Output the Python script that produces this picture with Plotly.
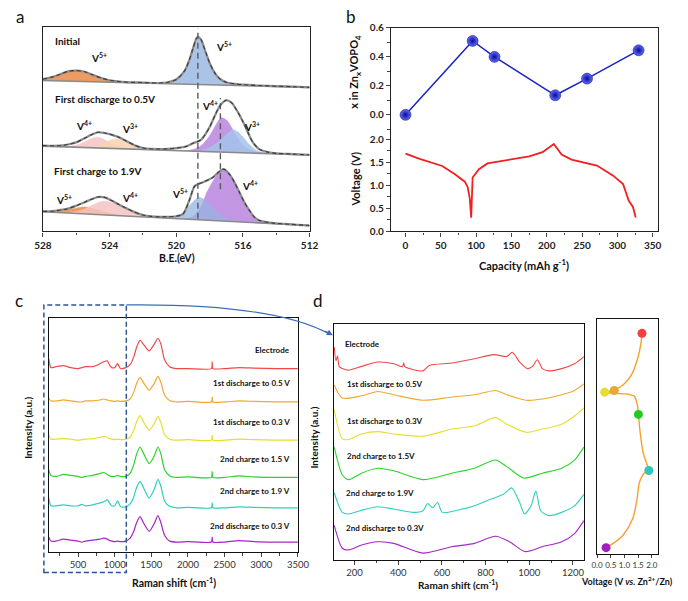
import plotly.graph_objects as go

W, H = 688, 601
FONT = "Lato, 'Open Sans', sans-serif"


def fx(p):
    return p / W


def fy(p):
    return 1 - p / H


# ======================= DATA =======================
# ---- Panel a : V 2p XPS fits (binding energy eV, height above background) ----
init_v5L_x = [528, 527.5, 527, 526.5, 526, 525.5, 525, 524.5, 524, 523.5, 523]
init_v5L_h = [1.5, 3.5, 6.5, 9.5, 11, 9.5, 6.5, 3.5, 1.5, 0.5, 0]
init_v5R_x = [521, 520.5, 520, 519.5, 519.2, 519, 518.8, 518.7, 518.5, 518.3, 518, 517.7, 517.4, 517, 516.5, 516]
init_v5R_h = [0, 1, 4, 13, 25, 36, 46, 48, 45, 36, 22, 12, 6, 2.5, 1, 0]
init_env_x = [528, 527.5, 527, 526.5, 526, 525.5, 525, 524.5, 524, 523.5, 523, 522, 521, 520.5, 520, 519.5,
              519.2, 519, 518.8, 518.7, 518.5, 518.3, 518, 517.7, 517.4, 517, 516.5, 516, 515, 514, 513, 512]
init_env_h = [1.5, 3.5, 6.5, 10, 11, 10, 7, 4, 2, 1, 0.5, 0.5, 0.5, 1.5, 4.5, 13.5,
              25.5, 36.5, 46.5, 48.5, 45.5, 36.5, 22.5, 12.5, 6.5, 3, 1.5, 1, 0.5, 0.3, 0.2, 0]

mid_v4L_x = [526.5, 526, 525.5, 525, 524.8, 524.5, 524, 523.5, 523, 522.5]
mid_v4L_h = [0.5, 2, 6, 10, 11, 10, 6, 2.5, 0.8, 0]
mid_v3L_x = [525, 524.5, 524, 523.75, 523.5, 523, 522.5, 522, 521.5]
mid_v3L_h = [0.5, 3, 8, 9.5, 9.5, 6.5, 3, 1, 0]
mid_v4R_x = [519.5, 519, 518.5, 518, 517.6, 517.3, 517, 516.7, 516.4, 516, 515.5, 515, 514.5]
mid_v4R_h = [0, 1.5, 6, 16, 28, 35, 33, 26, 17, 8, 2.5, 0.5, 0]
mid_v3R_x = [519, 518.5, 518, 517.5, 517, 516.6, 516.3, 516, 515.7, 515.3, 515, 514.5]
mid_v3R_h = [0, 1, 4, 10, 18, 23, 21, 16, 10, 4, 1.5, 0]
mid_env_x = [528, 527, 526.5, 526, 525.5, 525, 524.7, 524.3, 524, 523.5, 523, 522.5, 522, 521.5, 521, 520.5,
             520, 519.5, 519, 518.5, 518, 517.6, 517.3, 517, 516.7, 516.4, 516, 515.7, 515.4, 515, 514.5,
             514, 513, 512]
mid_env_h = [0.5, 1, 2.5, 5, 9.5, 14, 16, 15.5, 14.5, 12, 8, 4, 1.5, 0.8, 1, 1.5,
             2.5, 4, 8, 12, 25, 40, 49, 53, 51, 44, 32, 21, 11, 4, 1.5,
             0.5, 0.3, 0]

bot_v5L_x = [527.5, 527, 526.5, 526, 525.5, 525, 524.5, 524, 523.5, 523]
bot_v5L_h = [0.5, 1.5, 3.5, 5.5, 7, 6, 4, 2, 0.7, 0]
bot_v4L_x = [526.5, 526, 525.5, 525, 524.6, 524.3, 524, 523.5, 523, 522.5, 522, 521.5, 521]
bot_v4L_h = [0.5, 2, 5, 9.5, 13, 14, 13.5, 11, 7.5, 4, 1.5, 0.5, 0]
bot_v5R_x = [520.7, 520.2, 519.7, 519.3, 519, 518.7, 518.5, 518.2, 517.8, 517.4, 517, 516.5, 516]
bot_v5R_h = [0, 1.5, 5, 12, 18, 22.5, 22.5, 19, 12, 6, 2.5, 0.5, 0]
bot_v4R_x = [519.5, 519, 518.5, 518.2, 517.8, 517.5, 517.15, 516.8, 516.5, 516.2, 515.9, 515.6, 515.3, 515, 514.5, 514]
bot_v4R_h = [0, 3, 14, 27, 40, 48, 52, 48, 40, 29, 19, 11, 5, 2, 0.5, 0]
bot_env_x = [528, 527.5, 527, 526.5, 526, 525.5, 525, 524.7, 524.3, 524, 523.5, 523, 522.5, 522, 521.5, 521,
             520.5, 520, 519.6, 519.2, 518.9, 518.6, 518.4, 518.1, 517.8, 517.5, 517.15, 516.8, 516.5, 516.2,
             515.9, 515.6, 515.3, 515, 514.5, 514, 512]
bot_env_h = [0.5, 1, 2.5, 4.5, 8, 12, 16, 18, 18, 16, 12, 8, 4.5, 2, 1, 1,
             1.5, 2.5, 5, 20, 34, 37, 38.5, 41, 44, 49, 53, 48, 40, 30,
             20, 12, 5.5, 2.5, 1, 0.5, 0]

xps_ticks = [528, 524, 520, 516, 512]
xps_guides = [518.7, 517.35]

# ---- Panel b ----
zn_capacity = [0, 95, 126, 212, 257, 330]
zn_x = [0.0, 0.51, 0.40, 0.135, 0.25, 0.445]
gcd_capacity = [0, 20, 52, 70, 84, 88, 91, 93, 95, 104, 116, 148, 175, 194, 210, 221, 235, 271, 294, 308, 316, 322, 326]
gcd_voltage = [1.69, 1.575, 1.42, 1.24, 1.08, 0.96, 0.71, 0.30, 1.17, 1.35, 1.475, 1.56, 1.63, 1.72, 1.90,
               1.67, 1.56, 1.43, 1.21, 1.03, 0.67, 0.53, 0.30]

# ---- Panel c : full Raman spectra (intensity above each trace's baseline) ----
raman_c_shift = [100, 130, 200, 300, 400, 500, 550, 600, 700, 800, 850, 900, 920, 960, 1000, 1040, 1080,
                 1150, 1210, 1260, 1300, 1346, 1390, 1470, 1540, 1590, 1630, 1680, 1750, 1850, 2000, 2320, 2330,
                 2340, 2500, 2700, 2900, 3200, 3500]
raman_c_electrode = [10, 1, 2, 3, 1, 0, 1, 2, 2, 5, 7, 8, 5, 1, 1, 5, 0,
                     1, 4, 12, 22, 29, 25, 18, 25, 31, 25, 9, 2, 0, 0, 0, 7,
                     0, 0, 1, 0.5, 0, 0]
raman_c_dis05 = [4, 1, 1, 2, 1, 0, 0, 1, 1, 2, 3, 2, 1.5, 1, 0.5, 1, 0.5,
                 1, 3, 10, 19, 25, 20, 12, 19, 26, 20, 7, 1.5, 0, 0.5, 0, 5,
                 0, 0, 1, 0.5, 0, 0]
raman_c_dis03 = [5, 1, 1, 1.5, 1, 0, 0.5, 1, 1.5, 3, 4, 3, 2, 1, 0.5, 1, 0.5,
                 1, 3, 10, 19, 25, 19, 10, 17, 24, 18, 6, 1, 0, 0.5, 0, 5,
                 0, 0, 1, 0.5, 0, 0]
raman_c_ch15 = [8, 2, 1, 3, 2, 1, 0, 1, 2, 4, 5, 3, 2, 1, 1, 2, 1,
                1, 4, 13, 24, 31, 25, 14, 22, 31, 24, 8, 1.5, 0, 0.5, 0, 6,
                0, 0, 1.5, 0.5, 0, 0]
raman_c_ch19 = [10, 2, 2, 3, 2, 2, 3.5, 2, 3, 5, 6, 8, 6, 2, 2, 7, 1,
                1, 4, 11, 21, 27, 21, 10, 19, 29, 22, 7, 1.5, 0, 0.5, 0, 5,
                0, 0, 1, 0.5, 0, 0]
raman_c_dis03b = [5, 1, 1, 3, 2, 1, 0, 1, 2, 3, 4, 3, 2, 1, 0.5, 1, 0.5,
                  1, 4, 11, 20, 26, 20, 11, 19, 27, 20, 7, 1, 0, 0.5, 0, 5,
                  0, 0, 1.5, 0.5, 0, 0]
raman_labels_c = ["Electrode", "1st discharge to 0.5 V", "1st discharge to 0.3 V",
                  "2nd charge to 1.5 V", "2nd charge to 1.9 V", "2nd discharge to 0.3 V"]

# ---- Panel d : low-wavenumber Raman (absolute intensity, a.u.) ----
d_el_shift = [107, 115, 122, 130, 144, 173, 232, 306, 380, 420, 425, 430, 513, 542, 646, 749, 838, 897, 922,
              956, 993, 1015, 1037, 1060, 1089, 1148, 1207, 1250]
d_el_int = [217, 203, 208, 197, 195, 193.3, 197.3, 201.7, 200, 197, 201, 197, 192.7, 198.3, 200.7, 205, 209.3,
            207.3, 211.7, 201.7, 195, 197.3, 204, 195, 192.7, 195, 200, 207.3]
d_d05_shift = [107, 144, 232, 306, 380, 513, 646, 749, 845, 897, 986, 1060, 1148, 1207, 1250]
d_d05_int = [178.3, 165, 167.3, 171.7, 168.3, 162.7, 166, 168.3, 172.7, 168.3, 162.7, 164, 168.3, 172.7, 179.3]
d_d03_shift = [107, 144, 173, 232, 306, 380, 513, 646, 749, 845, 897, 986, 1060, 1148, 1207, 1250]
d_d03_int = [153.3, 123.3, 122.7, 128.3, 130.7, 128.3, 126, 133.3, 136.7, 145, 138.3, 130, 133.3, 138.3, 146.7, 155]
d_c15_shift = [107, 144, 173, 232, 306, 380, 513, 646, 749, 845, 897, 975, 1060, 1148, 1207, 1250]
d_c15_int = [115, 86.7, 81.7, 88.3, 93.3, 90.7, 81.7, 88.3, 93.3, 101.7, 95, 83.3, 88.3, 93.3, 101.7, 115]
d_c19_shift = [107, 144, 173, 225, 306, 380, 469, 513, 535, 557, 580, 602, 675, 749, 823, 882, 919, 956, 978,
               1008, 1030, 1052, 1089, 1148, 1207, 1250]
d_c19_int = [68.3, 48.3, 46.7, 50, 54, 51.7, 48.3, 50, 57.3, 53, 58.3, 48.3, 50.7, 55, 61.7, 66.7, 73.3, 58.3,
             46.7, 55, 70, 50, 45, 48.3, 55, 66.7]
d_d03b_shift = [107, 144, 173, 232, 306, 380, 513, 646, 749, 845, 910, 980, 1060, 1148, 1207, 1250]
d_d03b_int = [35, 11.7, 10, 15, 18.3, 16.7, 6.7, 13.3, 16.7, 24, 18.3, 8.3, 13.3, 18.3, 26.7, 40]
raman_labels_d = ["Electrode", "1st discharge to 0.5V", "1st discharge to 0.3V",
                  "2nd charge to 1.5V", "2nd charge to 1.9V", "2nd discharge to 0.3V"]

# ---- Panel d side: voltage profile (time runs downward) ----
side_voltage = [1.64, 1.61, 1.48, 1.25, 0.95, 0.71, 0.63, 0.42, 0.28, 0.66, 1.13, 1.36, 1.47, 1.51, 1.58,
                1.69, 1.81, 1.89, 1.72, 1.54, 1.46, 1.30, 0.95, 0.59, 0.33]
side_time = [225, 216, 199, 182.3, 172.3, 168, 166.7, 165.7, 165, 163.7, 163, 160.7, 152.3, 142.3, 122.3,
             102.3, 92.3, 85, 82.3, 72.3, 55.7, 35.7, 19, 10.7, 6.3]
side_pt_voltage = [1.64, 0.63, 0.28, 1.51, 1.89, 0.33]
side_pt_time = [225, 166.7, 165, 142.3, 85, 6.3]

# ======================= STYLE =======================
C_OR = 'rgba(234,145,80,0.9)'
C_BL = 'rgba(160,190,228,0.9)'
C_PU = 'rgba(190,140,225,0.9)'
C_PK = 'rgba(245,195,195,0.85)'
C_LO = 'rgba(247,212,175,0.85)'
SPEC = ['#F04848', '#F0A830', '#E8DE2C', '#2CD22C', '#2ECFC0', '#A526C4']

xps_bg = {'init': (154, 147), 'mid': (87, 78), 'bot': (20, 6)}
c_offsets = [187, 153, 114, 76, 45, 10]

fig = go.Figure()


def bgv(x, base):
    y0, y1 = base
    return y0 + (y1 - y0) * (528 - x) / 16.0


def add_comp(xs, hs, base, color):
    b = [bgv(x, base) for x in xs]
    fig.add_trace(go.Scatter(x=xs, y=b, mode='lines', line=dict(width=0, color=color),
                             xaxis='x', yaxis='y', hoverinfo='skip', showlegend=False))
    fig.add_trace(go.Scatter(x=xs, y=[bb + h for bb, h in zip(b, hs)], mode='lines', fill='tonexty',
                             fillcolor=color, line=dict(width=0.6, color=color, shape='spline', smoothing=0.8),
                             xaxis='x', yaxis='y', hoverinfo='skip', showlegend=False))


def add_env(xs, hs, base):
    y = [bgv(x, base) + h for x, h in zip(xs, hs)]
    fig.add_trace(go.Scatter(x=[528, 512], y=[bgv(528, base), bgv(512, base)], mode='lines',
                             line=dict(width=1.6, color='#8a8a8a'), xaxis='x', yaxis='y', showlegend=False))
    fig.add_trace(go.Scatter(x=xs, y=y, mode='lines', line=dict(width=2.2, color='#8c8c8c', shape='spline', smoothing=0.8),
                             xaxis='x', yaxis='y', showlegend=False))
    fig.add_trace(go.Scatter(x=xs, y=y, mode='lines',
                             line=dict(width=1.1, color='#3c3c3c', dash='4px,3px', shape='spline', smoothing=0.8),
                             xaxis='x', yaxis='y', showlegend=False))


# Panel a
add_comp(init_v5L_x, init_v5L_h, xps_bg['init'], C_OR)
add_comp(init_v5R_x, init_v5R_h, xps_bg['init'], C_BL)
add_env(init_env_x, init_env_h, xps_bg['init'])
add_comp(mid_v4L_x, mid_v4L_h, xps_bg['mid'], C_PK)
add_comp(mid_v3L_x, mid_v3L_h, xps_bg['mid'], C_LO)
add_comp(mid_v4R_x, mid_v4R_h, xps_bg['mid'], C_PU)
add_comp(mid_v3R_x, mid_v3R_h, xps_bg['mid'], 'rgba(165,195,235,0.85)')
add_env(mid_env_x, mid_env_h, xps_bg['mid'])
add_comp(bot_v5L_x, bot_v5L_h, xps_bg['bot'], C_OR)
add_comp(bot_v4L_x, bot_v4L_h, xps_bg['bot'], C_PK)
add_comp(bot_v4R_x, bot_v4R_h, xps_bg['bot'], C_PU)
add_comp(bot_v5R_x, bot_v5R_h, xps_bg['bot'], 'rgba(150,180,225,0.75)')
add_env(bot_env_x, bot_env_h, xps_bg['bot'])

# Panel b
fig.add_trace(go.Scatter(x=zn_capacity, y=zn_x, mode='lines+markers', xaxis='x2', yaxis='y2',
                         line=dict(color='#1a22c8', width=1.5),
                         marker=dict(size=11, color='#5f6cff', gradient=dict(type='radial', color='#0a0a90'),
                                     line=dict(width=0.5, color='#0a0a70')), showlegend=False))
fig.add_trace(go.Scatter(x=gcd_capacity, y=gcd_voltage, mode='lines', xaxis='x3', yaxis='y3',
                         line=dict(color='#f02020', width=1.8), showlegend=False))

# Panel c
c_series = [raman_c_electrode, raman_c_dis05, raman_c_dis03, raman_c_ch15, raman_c_ch19, raman_c_dis03b]
for s, off, col in zip(c_series, c_offsets, SPEC):
    fig.add_trace(go.Scatter(x=raman_c_shift, y=[off + v for v in s], mode='lines', xaxis='x4', yaxis='y4',
                             line=dict(color=col, width=1.2, shape='spline', smoothing=0.6), showlegend=False))

# Panel d
d_series = [(d_el_shift, d_el_int), (d_d05_shift, d_d05_int), (d_d03_shift, d_d03_int),
            (d_c15_shift, d_c15_int), (d_c19_shift, d_c19_int), (d_d03b_shift, d_d03b_int)]
for (xs, ys), col in zip(d_series, SPEC):
    fig.add_trace(go.Scatter(x=xs, y=ys, mode='lines', xaxis='x5', yaxis='y5',
                             line=dict(color=col, width=1.1, shape='spline', smoothing=0.7), showlegend=False))

fig.add_trace(go.Scatter(x=side_voltage, y=side_time, mode='lines', xaxis='x6', yaxis='y6',
                         line=dict(color='#F5A02A', width=1.4, shape='spline', smoothing=0.8), showlegend=False))
fig.add_trace(go.Scatter(x=side_pt_voltage, y=side_pt_time, mode='markers', xaxis='x6', yaxis='y6',
                         marker=dict(size=9, color=['#F04040', '#E8A834', '#E8DC30', '#20CC20', '#2EC8B8', '#A020C0']),
                         showlegend=False))

# ======================= AXES =======================
AX = dict(showgrid=False, zeroline=False, showline=True, linecolor='#222', linewidth=1.3)
tfb = dict(family=FONT, size=10, color='#222', weight='bold')
tfr = dict(family=FONT, size=9.5, color='#333')

fig.update_layout(
    width=W, height=H, margin=dict(l=0, r=0, t=0, b=0),
    paper_bgcolor='white', plot_bgcolor='white', font=dict(family=FONT, size=10),
    xaxis=dict(AX, domain=[fx(35), fx(310)], range=[528, 512], anchor='y', tickvals=xps_ticks,
               ticks='outside', ticklen=4, tickfont=tfb, mirror=True,
               minor=dict(dtick=2, ticks='outside', ticklen=2.5)),
    yaxis=dict(AX, domain=[fy(230), fy(21)], range=[0, 209], anchor='x', showticklabels=False,
               ticks='', mirror=True),
    xaxis2=dict(AX, domain=[fx(394), fx(669)], range=[-20.6, 356.9], anchor='y2', side='top',
                showticklabels=False, ticks=''),
    yaxis2=dict(AX, domain=[fy(130), fy(22)], range=[-0.128, 0.602], anchor='x2', mirror=True,
                tickvals=[0.0, 0.2, 0.4, 0.6], ticktext=['0.0', '0.2', '0.4', '0.6'], ticks='outside',
                ticklen=4, tickfont=tfb, minor=dict(dtick=0.1, ticks='outside', ticklen=2.5)),
    xaxis3=dict(AX, domain=[fx(394), fx(669)], range=[-20.6, 356.9], anchor='y3', dtick=50,
                ticks='outside', ticklen=4, tickfont=tfb, minor=dict(dtick=25, ticks='outside', ticklen=2.5)),
    yaxis3=dict(AX, domain=[fy(230), fy(130)], range=[0, 2.128], anchor='x3', mirror=True,
                tickvals=[0, 0.5, 1.0, 1.5, 2.0], tickformat='.1f', ticks='outside', ticklen=4, tickfont=tfb,
                minor=dict(dtick=0.25, ticks='outside', ticklen=2.5)),
    xaxis4=dict(AX, domain=[fx(41), fx(298)], range=[100, 3500], anchor='y4', mirror=True,
                tickvals=[500, 1000, 1500, 2000, 2500, 3000, 3500], ticks='outside', ticklen=4, tickfont=tfr,
                minor=dict(dtick=250, ticks='outside', ticklen=2.5), linecolor='#111'),
    yaxis4=dict(AX, domain=[fy(557), fy(318)], range=[0, 239], anchor='x4', showticklabels=False, ticks='',
                mirror=True, linecolor='#111'),
    xaxis5=dict(AX, domain=[fx(335), fx(593)], range=[105, 1250], anchor='y5', mirror=True,
                tickvals=[200, 400, 600, 800, 1000, 1200], ticks='outside', ticklen=4, tickfont=tfr,
                minor=dict(dtick=100, ticks='outside', ticklen=2.5), linecolor='#111'),
    yaxis5=dict(AX, domain=[fy(565), fy(324)], range=[0, 241], anchor='x5', showticklabels=False, ticks='',
                mirror=True, linecolor='#111'),
    xaxis6=dict(AX, domain=[fx(606), fx(669)], range=[-0.02, 2.21], anchor='y6', mirror=True,
                tickvals=[0, 0.5, 1.0, 1.5, 2.0], tickformat='.1f', ticks='outside', ticklen=3,
                tickfont=dict(family=FONT, size=8, color='#333'), linecolor='#111'),
    yaxis6=dict(AX, domain=[fy(559), fy(319)], range=[0, 240], anchor='x6', showticklabels=False, ticks='',
                mirror=True, linecolor='#111'),
)

# ======================= SHAPES =======================
shapes = []
for e, (y0, y1) in zip(xps_guides, [(13, 207), (43, 136)]):
    shapes.append(dict(type='line', xref='x', yref='y', x0=e, x1=e, y0=y0, y1=y1,
                       line=dict(color='#5a5a5a', width=1.4, dash='6px,4px')))
shapes.append(dict(type='rect', xref='paper', yref='paper', x0=fx(36), x1=fx(121), y0=fy(578), y1=fy(305),
                   line=dict(color='#2B5597', width=1.5, dash='5px,3px')))
shapes.append(dict(type='path', xref='paper', yref='paper',
                   path=f"M {fx(121)},{fy(305)} Q {fx(273)},{fy(303.5)} {fx(330)},{fy(334.5)}",
                   line=dict(color='#3F6DB3', width=1.1)))
fig.update_layout(shapes=shapes)

# ======================= TEXT =======================
anns = []


def ann(text, px, py, size=10, xa='center', ya='middle', bold=False, angle=0, color='#111'):
    anns.append(dict(text=(f"<b>{text}</b>" if bold else text), x=fx(px), y=fy(py), xref='paper', yref='paper',
                     showarrow=False, xanchor=xa, yanchor=ya, textangle=angle,
                     font=dict(family=FONT, size=size, color=color)))


# panel letters
ann('a', 11, 11, 17)
ann('b', 353, 11, 17)
ann('c', 10, 300, 17)
ann('d', 319, 300, 17)

# panel a
ann('Initial', 45, 36, 10, xa='left', bold=True)
ann('V<sup>5+</sup>', 93, 53, 10, bold=True)
ann('V<sup>5+</sup>', 222, 41, 10, bold=True)
ann('First discharge to 0.5V', 45, 95, 10, xa='left', bold=True)
ann('V<sup>4+</sup>', 77, 122, 10, bold=True)
ann('V<sup>3+</sup>', 125, 125, 10, bold=True)
ann('V<sup>4+</sup>', 207, 102, 10, bold=True)
ann('V<sup>3+</sup>', 251, 123, 10, bold=True)
ann('First charge to 1.9V', 44, 168, 10, xa='left', bold=True)
ann('V<sup>5+</sup>', 57, 197, 10, bold=True)
ann('V<sup>4+</sup>', 125, 195, 10, bold=True)
ann('V<sup>5+</sup>', 176, 191, 10, bold=True)
ann('V<sup>4+</sup>', 249, 183, 10, bold=True)
ann('B.E.(eV)', 173, 257, 10.5, bold=True)

# panel b
ann('x in Zn<sub>x</sub>VOPO<sub>4</sub>', 357, 67, 11, bold=True, angle=-90)
ann('Voltage (V)', 357, 177, 11, bold=True, angle=-90)
ann('Capacity (mAh g<sup>-1</sup>)', 531, 264, 11, bold=True)

# panel c
for lab, py in zip(raman_labels_c, [351, 385, 424, 462, 495, 531]):
    ann(lab, 292, py, 8, xa='right', bold=True)
ann('Intensity (a.u.)', 20, 430, 10, bold=True, angle=-90)
ann('Raman shift (cm<sup>-1</sup>)', 170, 588, 10.5, bold=True)

# panel d
for lab, px, py in zip(raman_labels_d, [345, 347, 347, 347, 346, 346], [345, 386, 423, 459, 497, 533]):
    ann(lab, px, py, 8, xa='left', bold=True)
ann('Intensity (a.u.)', 315, 440, 10, bold=True, angle=-90)
ann('Raman shift (cm<sup>-1</sup>)', 463, 590, 10, bold=True)
ann('Voltage (V <i>vs.</i> Zn<sup>2+</sup>/Zn)', 637, 587, 9, bold=True)

# arrow head
anns.append(dict(x=fx(334), y=fy(336), xref='paper', yref='paper', ax=-9, ay=-5, axref='pixel', ayref='pixel',
                 showarrow=True, arrowhead=2, arrowsize=1, arrowwidth=1.2, arrowcolor='#3F6DB3', text='',
                 font=dict(size=8)))

fig.update_layout(annotations=anns)

fig.write_html("out.html", config={'displayModeBar': False},
               post_script="document.body.style.margin='0px';document.body.style.padding='0px';")
